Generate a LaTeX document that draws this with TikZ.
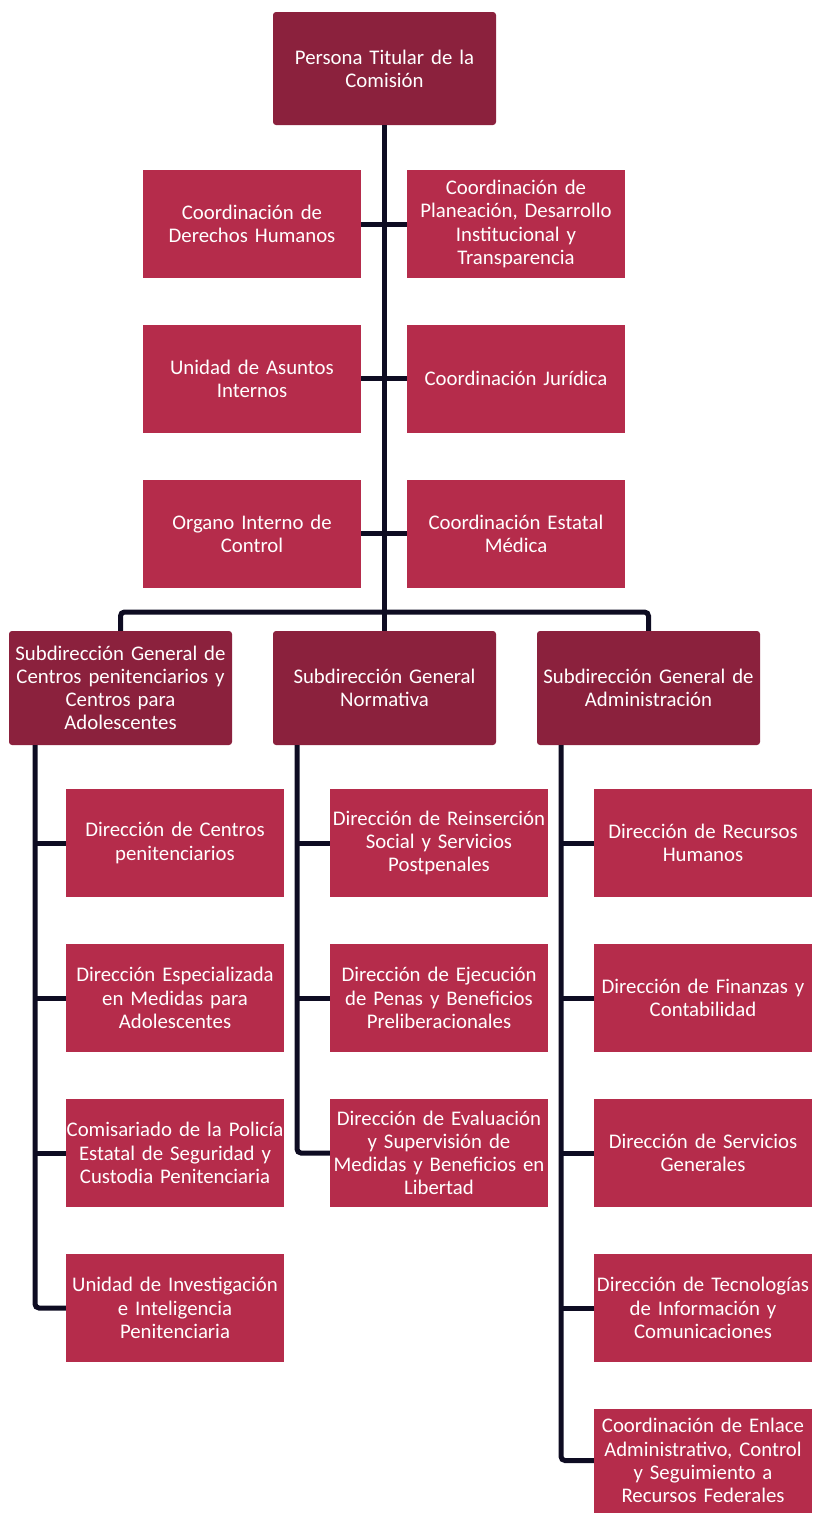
\documentclass[tikz,border=0pt]{standalone}
\usepackage{fontspec}
\setmainfont{Carlito}
\definecolor{vino}{HTML}{8B213D}
\definecolor{rosa}{HTML}{B52C4B}
\definecolor{linea}{HTML}{0E0C22}
\begin{document}
\begin{tikzpicture}[x=1pt, y=-1pt,
    jefe/.style={fill=vino, rounded corners=3pt, text=white, inner xsep=0pt, inner ysep=2pt, minimum width=223pt, minimum height=114pt, text width=223pt, align=center, font=\fontsize{20.8}{23.2}\selectfont},
    area/.style={fill=rosa, text=white, inner xsep=0pt, inner ysep=2pt, minimum width=218pt, minimum height=108pt, text width=218pt, align=center, font=\fontsize{20.8}{23.2}\selectfont},
    enlace/.style={draw=linea, line width=5pt, rounded corners=4pt}]
  \useasboundingbox (0,0) rectangle (813,1513);

  % titular y coordinaciones
  \node[jefe, minimum height=113pt] (titular) at (384.5,68.5) {Persona Titular de la\\Comisión};
  \node[area] (cdh) at (252,224) {Coordinación de\\Derechos Humanos};
  \node[area] (cpd) at (516,224) {Coordinación de\\Planeación, Desarrollo\\Institucional y\\Transparencia};
  \node[area] (uai) at (252,378.5) {Unidad de Asuntos\\Internos};
  \node[area] (cju) at (516,378.5) {Coordinación Jurídica};
  \node[area] (oic) at (252,533.5) {Organo Interno de\\Control};
  \node[area] (cem) at (516,533.5) {Coordinación Estatal\\Médica};

  % subdirecciones
  \node[jefe] (sgc) at (120.5,688) {Subdirección General de\\Centros penitenciarios y\\Centros para\\Adolescentes};
  \node[jefe] (sgn) at (384.5,688) {Subdirección General\\Normativa};
  \node[jefe] (sga) at (648.5,688) {Subdirección General de\\Administración};

  % direcciones
  \node[area] (dcp) at (175,843) {Dirección de Centros\\penitenciarios};
  \node[area] (dem) at (175,998) {Dirección Especializada\\en Medidas para\\Adolescentes};
  \node[area] (cps) at (175,1153) {Comisariado de la Policía\\Estatal de Seguridad y\\Custodia Penitenciaria};
  \node[area] (uii) at (175,1308) {Unidad de Investigación\\e Inteligencia\\Penitenciaria};

  \node[area] (drs) at (439,843) {Dirección de Reinserción\\Social y Servicios\\Postpenales};
  \node[area] (dep) at (439,998) {Dirección de Ejecución\\de Penas y Beneficios\\Preliberacionales};
  \node[area] (des) at (439,1153) {Dirección de Evaluación\\y Supervisión de\\Medidas y Beneficios en\\Libertad};

  \node[area] (drh) at (703,843) {Dirección de Recursos\\Humanos};
  \node[area] (dfc) at (703,998) {Dirección de Finanzas y\\Contabilidad};
  \node[area] (dsg) at (703,1153) {Dirección de Servicios\\Generales};
  \node[area] (dti) at (703,1308) {Dirección de Tecnologías\\de Información y\\Comunicaciones};
  \node[area, minimum height=104pt] (cea) at (703,1460.5) {Coordinación de Enlace\\Administrativo, Control\\y Seguimiento a\\Recursos Federales};

  \coordinate (bus) at (384.5,612);
  \coordinate (ejeC) at (35,745);
  \coordinate (ejeN) at (297,745);
  \coordinate (ejeA) at (561,745);

  % lineas
  \draw[enlace] (titular.south) -- (sgn.north);
  \draw[enlace] (cdh.east) -- (cpd.west);
  \draw[enlace] (uai.east) -- (cju.west);
  \draw[enlace] (oic.east) -- (cem.west);
  \draw[enlace] (sgc.north) |- (bus) -| (sga.north);

  \draw[enlace] (ejeC) |- (uii.west);
  \draw[enlace] (ejeC |- dcp.west) -- (dcp.west);
  \draw[enlace] (ejeC |- dem.west) -- (dem.west);
  \draw[enlace] (ejeC |- cps.west) -- (cps.west);

  \draw[enlace] (ejeN) |- (des.west);
  \draw[enlace] (ejeN |- drs.west) -- (drs.west);
  \draw[enlace] (ejeN |- dep.west) -- (dep.west);

  \draw[enlace] (ejeA) |- (cea.west);
  \draw[enlace] (ejeA |- drh.west) -- (drh.west);
  \draw[enlace] (ejeA |- dfc.west) -- (dfc.west);
  \draw[enlace] (ejeA |- dsg.west) -- (dsg.west);
  \draw[enlace] (ejeA |- dti.west) -- (dti.west);
\end{tikzpicture}
\end{document}
